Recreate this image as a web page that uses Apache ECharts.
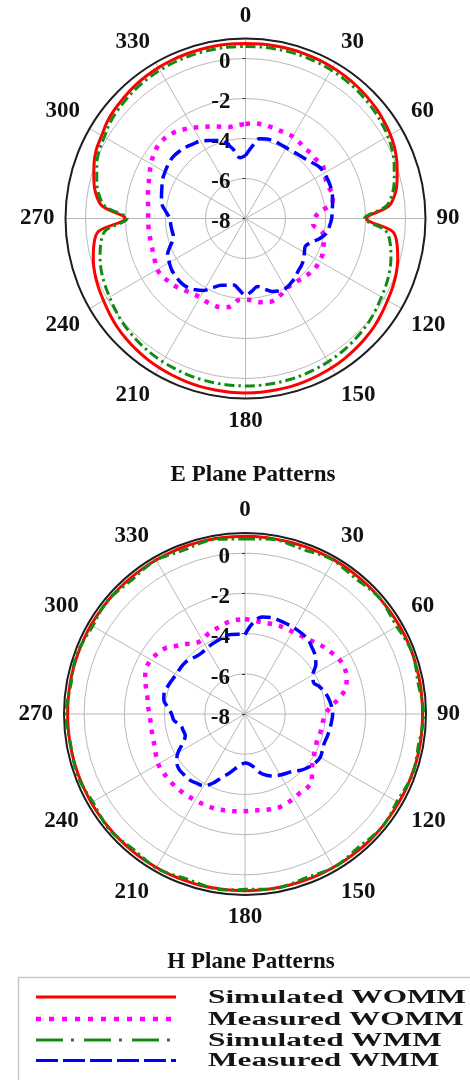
<!DOCTYPE html>
<html>
<head>
<meta charset="utf-8">
<script src="https://cdn.jsdelivr.net/npm/echarts@6/dist/echarts.min.js"></script>
<style>
  html, body { margin: 0; padding: 0; background: #fff; }
  #chart { width: 470px; height: 1080px; }
</style>
</head>
<body>
<div id="chart"></div>
<script>
// Angles (degrees, clockwise from top) shared by every pattern trace
const angles = [];
for (let a = 0; a < 360; a += 5) angles.push(a);

const angleTicks = ['0','30','60','90','120','150','180','210','240','270','300','330'];
const radiusTicks = [-8, -6, -4, -2, 0];

const seriesNames = ['Simulated WOMM', 'Measured WOMM', 'Simulated WMM', 'Measured WMM'];

// ---- E plane (relative level, dB) ----
const eSimWomm = [
  0.75, 0.76, 0.76, 0.76, 0.75, 0.74, 0.72, 0.69, 0.65, 0.60, 0.54, 0.46,
  0.37, 0.24, 0.06, -0.15, -0.38, -0.80, -1.95, -0.62, -0.30, -0.12, 0.02, 0.12,
  0.20, 0.30, 0.40, 0.47, 0.53, 0.58, 0.62, 0.65, 0.68, 0.70, 0.71, 0.72,
  0.72, 0.72, 0.71, 0.70, 0.68, 0.65, 0.62, 0.58, 0.53, 0.47, 0.40, 0.30,
  0.20, 0.12, 0.02, -0.12, -0.30, -0.62, -1.98, -0.80, -0.38, -0.15, 0.06, 0.22,
  0.30, 0.44, 0.52, 0.58, 0.64, 0.68, 0.71, 0.73, 0.74, 0.75, 0.76, 0.76
];
const eMeasWomm = [
  -3.27, -3.22, -3.22, -3.25, -3.28, -3.28, -3.27, -3.33, -3.41, -3.38, -3.40, -3.30,
  -3.45, -3.55, -3.55, -3.47, -3.60, -4.30, -4.55, -4.60, -4.10, -3.95, -3.85, -3.75,
  -3.73, -3.72, -3.78, -3.85, -3.93, -3.97, -3.93, -3.80, -3.67, -3.67, -3.75, -3.88,
  -3.95, -3.90, -3.52, -3.40, -3.38, -3.40, -3.45, -3.40, -3.30, -3.15, -3.05, -2.95,
  -2.90, -3.00, -3.08, -3.12, -3.13, -3.13, -3.13, -3.12, -3.05, -2.95, -2.85, -2.70,
  -2.55, -2.40, -2.31, -2.31, -2.40, -2.57, -2.75, -2.95, -3.10, -3.25, -3.35, -3.32
];
const eSimWmm = [
  0.60, 0.61, 0.61, 0.61, 0.60, 0.59, 0.57, 0.54, 0.50, 0.45, 0.39, 0.31,
  0.22, 0.09, -0.09, -0.30, -0.53, -0.95, -2.05, -0.97, -0.65, -0.47, -0.33, -0.23,
  -0.15, -0.05, 0.05, 0.12, 0.18, 0.23, 0.27, 0.30, 0.33, 0.35, 0.36, 0.37,
  0.37, 0.37, 0.36, 0.35, 0.33, 0.30, 0.27, 0.23, 0.18, 0.12, 0.05, -0.05,
  -0.15, -0.23, -0.33, -0.47, -0.65, -0.97, -2.08, -0.95, -0.53, -0.30, -0.09, 0.07,
  0.15, 0.29, 0.37, 0.43, 0.49, 0.53, 0.56, 0.58, 0.59, 0.60, 0.61, 0.61
];
const eMeasWmm = [
  -4.85, -4.40, -3.95, -3.88, -3.88, -3.90, -3.92, -3.90, -3.85, -3.78, -3.65, -3.50,
  -3.45, -3.45, -3.46, -3.50, -3.58, -3.65, -3.69, -3.78, -3.87, -4.15, -4.50, -4.70,
  -4.60, -4.45, -4.35, -4.28, -4.15, -4.05, -3.97, -4.00, -4.12, -4.35, -4.55, -4.35,
  -4.17, -4.42, -4.62, -4.55, -4.45, -4.20, -3.85, -3.65, -3.50, -3.45, -3.47, -3.50,
  -3.60, -3.70, -4.00, -4.28, -4.28, -4.25, -4.22, -4.00, -3.75, -3.65, -3.55, -3.42,
  -3.35, -3.28, -3.24, -3.28, -3.35, -3.45, -3.52, -3.70, -3.85, -4.05, -4.50, -4.95
];

// ---- H plane (relative level, dB) ----
const hSimWomm = [
  0.84, 0.84, 0.83, 0.83, 0.84, 0.84, 0.85, 0.85, 0.84, 0.84, 0.83, 0.83,
  0.84, 0.85, 0.85, 0.84, 0.84, 0.83, 0.83, 0.83, 0.84, 0.84, 0.83, 0.83,
  0.82, 0.82, 0.83, 0.83, 0.82, 0.81, 0.80, 0.80, 0.79, 0.79, 0.79, 0.79,
  0.79, 0.79, 0.79, 0.80, 0.80, 0.81, 0.81, 0.82, 0.82, 0.82, 0.82, 0.82,
  0.82, 0.82, 0.82, 0.82, 0.82, 0.82, 0.82, 0.82, 0.83, 0.83, 0.83, 0.83,
  0.84, 0.84, 0.84, 0.84, 0.84, 0.84, 0.84, 0.84, 0.85, 0.85, 0.85, 0.84
];
const hMeasWomm = [
  -3.28, -3.33, -3.36, -3.34, -3.30, -3.29, -3.28, -3.22, -3.15, -3.00, -2.85, -2.72,
  -2.58, -2.55, -2.62, -2.80, -3.20, -3.70, -4.00, -4.10, -4.12, -4.15, -4.18, -4.12,
  -4.03, -3.90, -3.65, -3.30, -3.20, -3.22, -3.15, -3.10, -3.06, -3.10, -3.15, -3.18,
  -3.17, -3.14, -3.12, -3.08, -3.06, -3.06, -3.05, -3.03, -3.01, -3.00, -3.00, -3.00,
  -3.02, -3.12, -3.22, -3.27, -3.29, -3.29, -3.25, -3.15, -3.07, -2.90, -2.72, -2.58,
  -2.60, -2.72, -2.88, -3.20, -3.45, -3.70, -3.75, -3.62, -3.55, -3.45, -3.35, -3.30
];
const hSimWmm = [
  0.70, 0.74, 0.80, 0.72, 0.68, 0.76, 0.82, 0.73, 0.70, 0.78, 0.84, 0.75,
  0.71, 0.79, 0.86, 0.80, 0.74, 0.82, 0.88, 0.83, 0.76, 0.81, 0.86, 0.78,
  0.72, 0.79, 0.84, 0.76, 0.70, 0.77, 0.82, 0.74, 0.69, 0.76, 0.81, 0.75,
  0.72, 0.78, 0.82, 0.74, 0.70, 0.78, 0.84, 0.77, 0.72, 0.80, 0.86, 0.79,
  0.74, 0.82, 0.88, 0.84, 0.80, 0.86, 0.90, 0.84, 0.78, 0.85, 0.88, 0.80,
  0.74, 0.81, 0.86, 0.78, 0.72, 0.79, 0.84, 0.75, 0.70, 0.77, 0.81, 0.73
];
const hMeasWmm = [
  -4.05, -3.45, -3.10, -3.03, -3.04, -3.06, -3.07, -3.10, -3.15, -3.30, -3.45, -3.70,
  -4.10, -4.25, -4.05, -3.88, -3.76, -3.68, -3.64, -3.68, -3.72, -3.76, -3.80, -3.75,
  -3.68, -3.75, -3.88, -4.05, -4.28, -4.40, -4.50, -4.60, -4.75, -4.95, -5.30, -5.50,
  -5.56, -5.45, -5.25, -4.95, -4.65, -4.20, -3.88, -3.80, -3.72, -3.72, -3.72, -3.85,
  -4.15, -4.60, -4.84, -4.82, -4.75, -4.45, -4.35, -4.15, -3.90, -3.84, -3.92, -4.00,
  -4.05, -4.06, -4.07, -4.15, -4.25, -4.27, -4.22, -4.15, -4.10, -4.02, -3.98, -4.02
];

const serifFont = '"Liberation Serif", "Times New Roman", serif';
const colors = ['#ff0000', '#ff00ff', '#138a13', '#0000ff'];
const lineStyles = [
  { color: colors[0], width: 3, type: 'solid' },
  { color: colors[1], width: 4.5, type: [4.5, 7] },
  { color: colors[2], width: 3, type: [10, 4, 2.5, 4] },
  { color: colors[3], width: 3.5, type: [14, 6] }
];

// pair each level with its angle and close the loop
function trace(values) {
  const pts = values.map((v, i) => [v, angles[i]]);
  pts.push([values[0], 360]);
  return pts;
}

function polarAxes(idx) {
  return {
    angle: {
      polarIndex: idx, type: 'value', min: 0, max: 360, interval: 30,
      startAngle: 90, clockwise: true,
      axisLine: { show: true, lineStyle: { color: '#1e1e1e', width: 2 } },
      axisTick: { show: false },
      splitLine: { show: true, lineStyle: { color: '#b9b9b9', width: 1 } },
      axisLabel: {
        margin: 11, color: '#111', fontFamily: serifFont, fontWeight: 'bold', fontSize: 23,
        formatter: v => (angleTicks.indexOf(String(v)) >= 0 ? String(v) : '')
      }
    },
    radius: {
      polarIndex: idx, type: 'value', min: -8, max: 1, interval: 2,
      axisLine: { show: false },
      axisTick: { show: true, length: 3, lineStyle: { color: '#333' } },
      splitLine: { show: true, lineStyle: { color: '#b9b9b9', width: 1 } },
      axisLabel: {
        showMaxLabel: false, margin: 15, color: '#111', fontFamily: serifFont,
        fontWeight: 'bold', fontSize: 23, verticalAlign: 'top', lineHeight: 8,
        formatter: v => (radiusTicks.indexOf(v) >= 0 ? String(v) : '')
      }
    }
  };
}

const pA = polarAxes(0), pB = polarAxes(1);

const planes = [
  [eSimWomm, eMeasWomm, eSimWmm, eMeasWmm],
  [hSimWomm, hMeasWomm, hSimWmm, hMeasWmm]
];
const drawOrder = [0, 1, 3, 2];
const series = [];
planes.forEach((set, pi) => {
  drawOrder.forEach(k => {
    series.push({
      type: 'line', name: seriesNames[k], coordinateSystem: 'polar', polarIndex: pi,
      data: trace(set[k]), showSymbol: false, smooth: 0.35,
      lineStyle: lineStyles[k], z: 3 + k, silent: true
    });
  });
});

// legend panel: line samples and stretched serif labels
const legendRows = [997, 1019, 1040, 1060.5];
const legendDash = [null, [5, 8], [27, 8, 3, 10], [22, 5]];
const labelFont = 'bold 18px ' + serifFont;
const ctx = document.createElement('canvas').getContext('2d');
ctx.font = labelFont;
const labelScale = 258 / ctx.measureText(seriesNames[0]).width;

const graphic = [{
  type: 'rect', shape: { x: 18.5, y: 977.5, width: 470, height: 120 },
  style: { fill: '#fff', stroke: '#c9c9c9', lineWidth: 1.5 }, z: 1
}];
seriesNames.forEach((name, k) => {
  graphic.push({
    type: 'line', shape: { x1: 36, y1: legendRows[k], x2: 176, y2: legendRows[k] },
    style: { stroke: colors[k], lineWidth: k === 1 ? 4.5 : 3, lineDash: legendDash[k] }, z: 2
  });
  graphic.push({
    type: 'text', x: 208, y: legendRows[k] + 1, scaleX: labelScale,
    style: { text: name, font: labelFont, fill: '#151515', verticalAlign: 'middle', align: 'left' }, z: 2
  });
});

const chart = echarts.init(document.getElementById('chart'), null, { renderer: 'canvas' });
chart.setOption({
  animation: false,
  backgroundColor: '#fff',
  title: [
    { text: 'E Plane Patterns', left: 248, top: 459, textAlign: 'center',
      textStyle: { fontFamily: serifFont, fontWeight: 'bold', fontSize: 23, color: '#111' } },
    { text: 'H Plane Patterns', left: 246, top: 946, textAlign: 'center',
      textStyle: { fontFamily: serifFont, fontWeight: 'bold', fontSize: 23, color: '#111' } }
  ],
  polar: [
    { center: [245.5, 218.5], radius: 180 },
    { center: [245, 714], radius: 181 }
  ],
  angleAxis: [pA.angle, pB.angle],
  radiusAxis: [pA.radius, pB.radius],
  series: series,
  graphic: graphic
});
</script>
</body>
</html>
